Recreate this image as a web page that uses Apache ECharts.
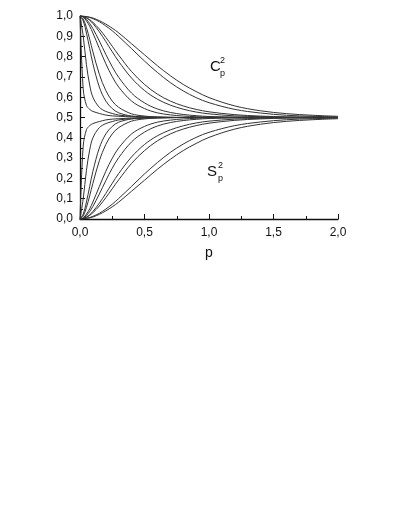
<!DOCTYPE html>
<html>
<head>
<meta charset="utf-8">
<script src="https://cdn.jsdelivr.net/npm/echarts@6/dist/echarts.min.js"></script>
<style>
  html, body { margin: 0; padding: 0; background: #fff; }
  #chart { width: 409px; height: 529px; }
</style>
</head>
<body>
<div id="chart"></div>
<script>
// p values shared by every curve
const pGrid = [0, 0.025, 0.05, 0.075, 0.1, 0.15, 0.2, 0.25, 0.3, 0.4, 0.5, 0.6, 0.7, 0.8, 0.9, 1.0, 1.2, 1.4, 1.6, 1.8, 2.0];

// C_p^2 curves (upper family)
const c1 = [1.000, 0.999, 0.997, 0.994, 0.990, 0.977, 0.960, 0.940, 0.917, 0.863, 0.809, 0.755, 0.706, 0.663, 0.628, 0.598, 0.557, 0.533, 0.519, 0.511, 0.506];
const c2 = [1.000, 0.999, 0.997, 0.993, 0.987, 0.972, 0.951, 0.927, 0.899, 0.839, 0.778, 0.722, 0.672, 0.631, 0.598, 0.573, 0.540, 0.522, 0.511, 0.506, 0.503];
const c3 = [1.000, 0.998, 0.992, 0.982, 0.969, 0.936, 0.895, 0.851, 0.807, 0.726, 0.663, 0.615, 0.581, 0.557, 0.540, 0.528, 0.514, 0.507, 0.503, 0.502, 0.501];
const c4 = [1.000, 0.998, 0.990, 0.979, 0.963, 0.922, 0.874, 0.824, 0.776, 0.694, 0.633, 0.590, 0.561, 0.541, 0.527, 0.518, 0.508, 0.504, 0.502, 0.501, 0.500];
const c5 = [1.000, 0.996, 0.983, 0.963, 0.938, 0.877, 0.811, 0.750, 0.698, 0.620, 0.572, 0.542, 0.525, 0.515, 0.509, 0.505, 0.502, 0.501, 0.500, 0.500, 0.500];
const c6 = [1.000, 0.994, 0.976, 0.950, 0.916, 0.840, 0.765, 0.701, 0.650, 0.581, 0.544, 0.523, 0.513, 0.507, 0.504, 0.502, 0.501, 0.500, 0.500, 0.500, 0.500];
const c7 = [1.000, 0.985, 0.943, 0.886, 0.824, 0.713, 0.633, 0.581, 0.550, 0.518, 0.507, 0.502, 0.501, 0.500, 0.500, 0.500, 0.500, 0.500, 0.500, 0.500, 0.500];
const c8 = [1.000, 0.976, 0.916, 0.840, 0.765, 0.650, 0.581, 0.544, 0.523, 0.507, 0.502, 0.501, 0.500, 0.500, 0.500, 0.500, 0.500, 0.500, 0.500, 0.500, 0.500];
const c9 = [1.000, 0.900, 0.760, 0.660, 0.600, 0.550, 0.530, 0.520, 0.512, 0.506, 0.503, 0.502, 0.501, 0.500, 0.500, 0.500, 0.500, 0.500, 0.500, 0.500, 0.500];
const c10 = [1.000, 0.640, 0.560, 0.540, 0.530, 0.520, 0.512, 0.508, 0.506, 0.503, 0.502, 0.501, 0.500, 0.500, 0.500, 0.500, 0.500, 0.500, 0.500, 0.500, 0.500];

// S_p^2 curves (lower family)
const s1 = [0.000, 0.001, 0.003, 0.006, 0.010, 0.023, 0.040, 0.060, 0.083, 0.137, 0.191, 0.245, 0.294, 0.337, 0.372, 0.402, 0.443, 0.467, 0.481, 0.489, 0.494];
const s2 = [0.000, 0.001, 0.003, 0.007, 0.013, 0.028, 0.049, 0.073, 0.101, 0.161, 0.222, 0.278, 0.328, 0.369, 0.402, 0.427, 0.460, 0.478, 0.489, 0.494, 0.497];
const s3 = [0.000, 0.002, 0.008, 0.018, 0.031, 0.064, 0.105, 0.149, 0.193, 0.274, 0.337, 0.385, 0.419, 0.443, 0.460, 0.472, 0.486, 0.493, 0.497, 0.498, 0.499];
const s4 = [0.000, 0.002, 0.010, 0.021, 0.037, 0.078, 0.126, 0.176, 0.224, 0.306, 0.367, 0.410, 0.439, 0.459, 0.473, 0.482, 0.492, 0.496, 0.498, 0.499, 0.500];
const s5 = [0.000, 0.004, 0.017, 0.037, 0.062, 0.123, 0.189, 0.250, 0.302, 0.380, 0.428, 0.458, 0.475, 0.485, 0.491, 0.495, 0.498, 0.499, 0.500, 0.500, 0.500];
const s6 = [0.000, 0.006, 0.024, 0.050, 0.084, 0.160, 0.235, 0.299, 0.350, 0.419, 0.456, 0.477, 0.487, 0.493, 0.496, 0.498, 0.499, 0.500, 0.500, 0.500, 0.500];
const s7 = [0.000, 0.015, 0.057, 0.114, 0.176, 0.287, 0.367, 0.419, 0.450, 0.482, 0.493, 0.498, 0.499, 0.500, 0.500, 0.500, 0.500, 0.500, 0.500, 0.500, 0.500];
const s8 = [0.000, 0.024, 0.084, 0.160, 0.235, 0.350, 0.419, 0.456, 0.477, 0.493, 0.498, 0.499, 0.500, 0.500, 0.500, 0.500, 0.500, 0.500, 0.500, 0.500, 0.500];
const s9 = [0.000, 0.100, 0.240, 0.340, 0.400, 0.450, 0.470, 0.480, 0.488, 0.494, 0.497, 0.498, 0.499, 0.500, 0.500, 0.500, 0.500, 0.500, 0.500, 0.500, 0.500];
const s10 = [0.000, 0.360, 0.440, 0.460, 0.470, 0.480, 0.488, 0.492, 0.494, 0.497, 0.498, 0.499, 0.500, 0.500, 0.500, 0.500, 0.500, 0.500, 0.500, 0.500, 0.500];

const curves = [c1, c2, c3, c4, c5, c6, c7, c8, c9, c10, s1, s2, s3, s4, s5, s6, s7, s8, s9, s10];

const myChart = echarts.init(document.getElementById("chart"));

const commaFmt = (v) => v.toFixed(1).replace(".", ",");
const font = "Liberation Sans, Arial, sans-serif";

const option = {
  animation: false,
  grid: {
    left: 80,
    right: 71,
    top: 16,
    bottom: 310,
  },
  xAxis: {
    type: "value",
    min: 0,
    max: 2,
    interval: 0.5,
    name: "p",
    nameLocation: "middle",
    nameGap: 27,
    nameTextStyle: { color: "#111", fontSize: 14, fontFamily: font },
    axisLine: { lineStyle: { color: "#111", width: 1.3 } },
    axisTick: { inside: true, length: 5, lineStyle: { color: "#111" } },
    minorTick: { show: true, splitNumber: 2, length: 3, lineStyle: { color: "#111" } },
    splitLine: { show: false },
    axisLabel: { formatter: commaFmt, color: "#111", fontSize: 12, fontFamily: font, margin: 8 },
  },
  yAxis: {
    type: "value",
    min: 0,
    max: 1,
    interval: 0.1,
    axisLine: { show: true, lineStyle: { color: "#111", width: 1.3 } },
    axisTick: { show: true, inside: true, length: 5, lineStyle: { color: "#111" } },
    minorTick: { show: true, splitNumber: 2, length: 3, lineStyle: { color: "#111" } },
    splitLine: { show: false },
    axisLabel: { formatter: commaFmt, color: "#111", fontSize: 12, fontFamily: font, margin: 7 },
  },
  series: curves.map((vals) => ({
    type: "line",
    data: pGrid.map((p, i) => [p, vals[i]]),
    showSymbol: false,
    smooth: 0.35,
    lineStyle: { color: "#333", width: 1 },
  })),
  graphic: [
    { type: "text", left: 210, top: 59, style: { text: "C", fontSize: 15, fontFamily: font, fill: "#111" } },
    { type: "text", left: 220, top: 56, style: { text: "2", fontSize: 9, fontFamily: font, fill: "#111" } },
    { type: "text", left: 220, top: 69, style: { text: "p", fontSize: 9, fontFamily: font, fill: "#111" } },
    { type: "text", left: 207, top: 164, style: { text: "S", fontSize: 15, fontFamily: font, fill: "#111" } },
    { type: "text", left: 218, top: 161, style: { text: "2", fontSize: 9, fontFamily: font, fill: "#111" } },
    { type: "text", left: 218, top: 174, style: { text: "p", fontSize: 9, fontFamily: font, fill: "#111" } },
  ],
};

myChart.setOption(option);
</script>
</body>
</html>
